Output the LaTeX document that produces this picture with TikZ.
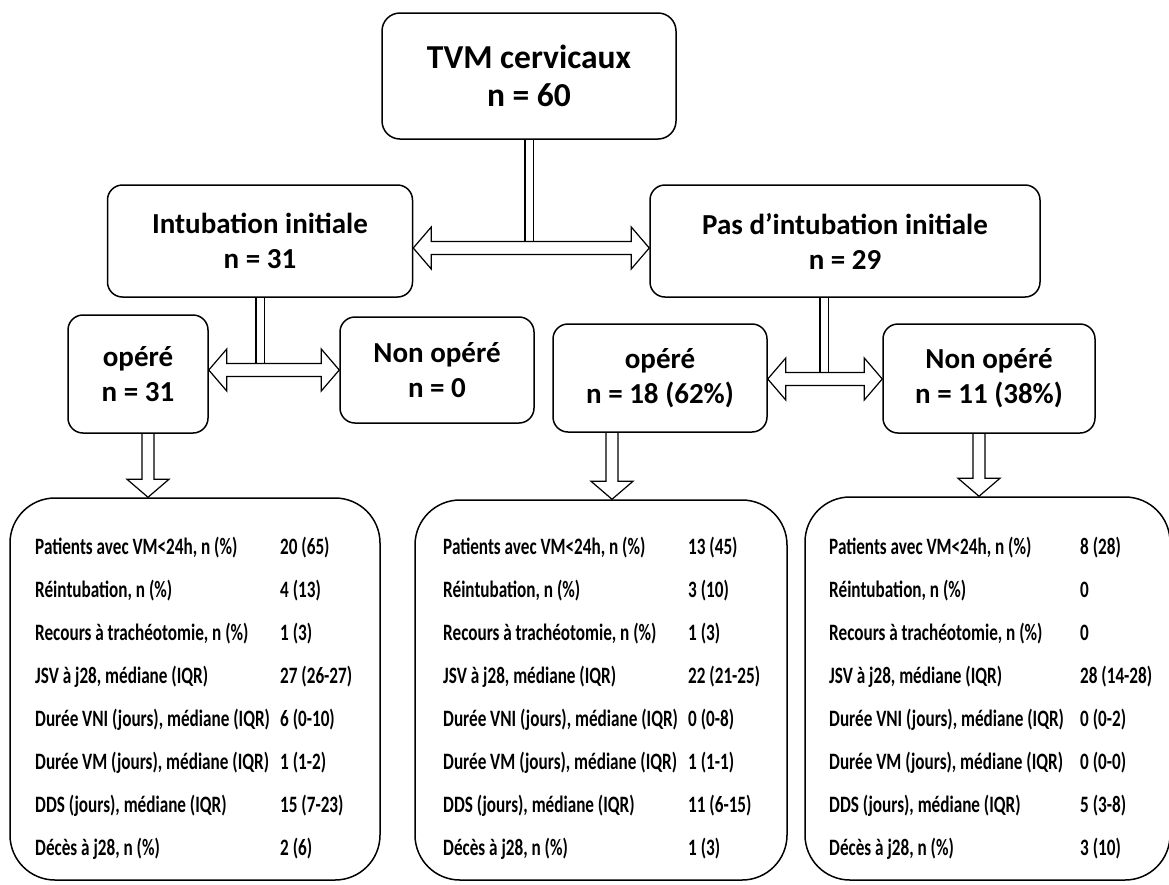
\documentclass[tikz,border=0pt]{standalone}
\usepackage{fontspec}
\setmainfont{Carlito}
\newfontfamily\condfont[FakeStretch=0.73]{Carlito}
\usetikzlibrary{calc,backgrounds}

% labels of the three result boxes
\newcommand{\statlabels}{\begin{tabular}[t]{@{}l@{}}
Patients avec VM<24h, n (\%)\\
Réintubation, n (\%)\\
Recours à trachéotomie, n (\%)\\
JSV à j28, médiane (IQR)\\
Durée VNI (jours), médiane (IQR)\\
Durée VM (jours), médiane (IQR)\\
DDS (jours), médiane (IQR)\\
Décès à j28, n (\%)
\end{tabular}}
\newcommand{\statvalues}[1]{\begin{tabular}[t]{@{}l@{}}#1\end{tabular}}

% hollow double arrow between two nodes at height #3
\newcommand{\hdarrow}[3]{%
  \draw[bigarrow] (#1.east |- 0,#3) -- ++(18,-21) -- ++(0,14.5)
    -- ($(#2.west |- 0,#3)+(-18,-6.5)$) -- ++(0,-14.5) -- (#2.west |- 0,#3)
    -- ++(-18,21) -- ++(0,-14.5) -- ($(#1.east |- 0,#3)+(18,6.5)$) -- ++(0,14.5) -- cycle;}
% hollow down arrow from node #1 to node #2 at abscissa #3
\newcommand{\vdarrow}[3]{%
  \draw[bigarrow] ($(#1.south -| #3,0)+(-6,0)$) -- ($(#2.north -| #3,0)+(-6,-18)$)
    -- ++(-15,0) -- (#2.north -| #3,0) -- ++(21,-18) -- ++(-15,0)
    -- ($(#1.south -| #3,0)+(6,0)$);}

\tikzset{
  box/.style={draw, line width=1.5pt, fill=white, rounded corners=15pt,
    align=center, inner sep=0pt},
  topbox/.style={box, rounded corners=18pt, font=\bfseries\fontsize{33.5}{38}\selectfont},
  armbox/.style={box, font=\bfseries\fontsize{29}{35}\selectfont},
  databox/.style={draw, line width=1.5pt, fill=white, rounded corners=45pt},
  datatext/.style={inner sep=0pt, anchor=base west,
    font=\condfont\bfseries\fontsize{23.5}{43}\selectfont},
  stem/.style={double, double distance=7pt, line width=1.2pt},
  bigarrow/.style={fill=white, line width=1.2pt, line join=miter},
}

\begin{document}
\begin{tikzpicture}[x=1pt,y=-1pt]
\useasboundingbox (0,0) rectangle (1169,884);

% boxes
\node[topbox, minimum width=294pt, minimum height=126pt] (tvm) at (529,76) {TVM cervicaux\\n = 60};
\node[armbox, minimum width=305pt, minimum height=112pt] (intub) at (260,241) {Intubation initiale\\n = 31};
\node[armbox, minimum width=390pt, minimum height=112pt] (nointub) at (845,241) {Pas d’intubation initiale\\n = 29};
\node[armbox, minimum width=140pt, minimum height=118pt] (op1) at (138,374) {opéré\\n = 31};
\node[armbox, minimum width=194pt, minimum height=106pt] (nop1) at (437,370) {Non opéré\\n = 0};
\node[armbox, minimum width=214pt, minimum height=108pt] (op2) at (660,378) {opéré\\n = 18 (62\%)};
\node[armbox, minimum width=212pt, minimum height=109pt] (nop2) at (989,378.5) {Non opéré\\n = 11 (38\%)};

\node[databox, minimum width=370pt, minimum height=382pt] (res1) at (195,689) {};
\node[databox, minimum width=372pt, minimum height=380pt] (res2) at (601,690) {};
\node[databox, minimum width=365pt, minimum height=383pt] (res3) at (987.5,688.5) {};

% results
\node[datatext] (lab1) at (35,554) {\statlabels};
\node[datatext] (val1) at (280,554) {\statvalues{20 (65)\\4 (13)\\1 (3)\\27 (26-27)\\6 (0-10)\\1 (1-2)\\15 (7-23)\\2 (6)}};
\node[datatext] (lab2) at (443,554) {\statlabels};
\node[datatext] (val2) at (688,554) {\statvalues{13 (45)\\3 (10)\\1 (3)\\22 (21-25)\\0 (0-8)\\1 (1-1)\\11 (6-15)\\1 (3)}};
\node[datatext] (lab3) at (829,554) {\statlabels};
\node[datatext] (val3) at (1080,554) {\statvalues{8 (28)\\0\\0\\28 (14-28)\\0 (0-2)\\0 (0-0)\\5 (3-8)\\3 (10)}};

% connectors
\begin{pgfonlayer}{background}
\draw[stem] (tvm.south) -- (tvm.south |- 0,241.5);
\draw[stem] (intub.south) -- (intub.south |- 0,363.5);
\draw[stem] (nointub.south -| 824,0) -- (824,372.5);
\hdarrow{intub}{nointub}{248}
\hdarrow{op1}{nop1}{370}
\hdarrow{op2}{nop2}{379}
\vdarrow{op1}{res1}{148}
\vdarrow{op2}{res2}{612}
\vdarrow{nop2}{res3}{979}
\end{pgfonlayer}
\end{tikzpicture}
\end{document}
